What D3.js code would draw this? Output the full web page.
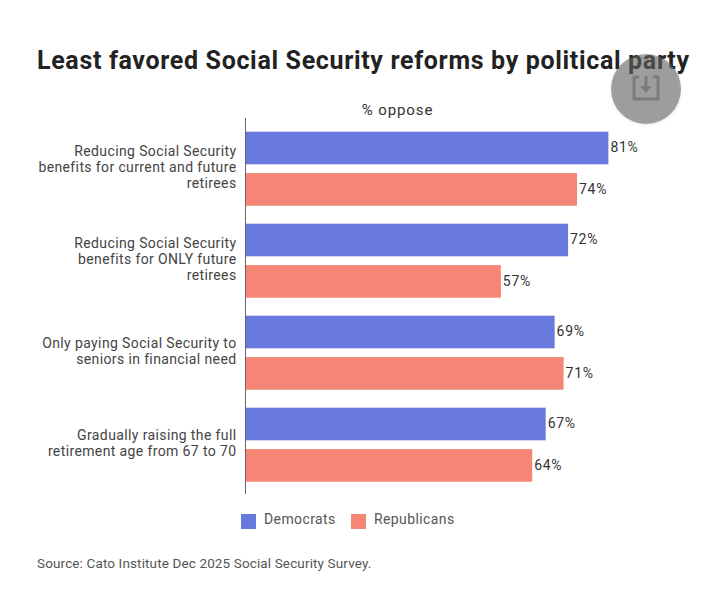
<!DOCTYPE html>
<html>
<head>
<meta charset="utf-8">
<script src="https://cdnjs.cloudflare.com/ajax/libs/d3/7.8.5/d3.min.js"></script>
<style>
	html, body { margin: 0; padding: 0; background: #fff; }
	text { font-family: Roboto, "Liberation Sans", sans-serif; }
	.title { font-size: 25px; font-weight: 700; fill: #222; letter-spacing: 0.66px; }
	.cat { font-size: 14px; fill: #444; letter-spacing: 0.38px; }
	.val { font-size: 14px; fill: #333; letter-spacing: 0.7px; }
	.legend { font-size: 14px; fill: #555; letter-spacing: 0.4px; }
	.source { font-size: 13.5px; fill: #555; letter-spacing: 0.13px; }
	.axis-title { font-size: 15px; fill: #333; letter-spacing: 0.9px; }
</style>
</head>
<body>
<div id="chart"></div>
<script>
var categories = [
	["Reducing Social Security", "benefits for current and future", "retirees"],
	["Reducing Social Security", "benefits for ONLY future", "retirees"],
	["Only paying Social Security to", "seniors in financial need"],
	["Gradually raising the full", "retirement age from 67 to 70"]
];
var seriesNames = ["Democrats", "Republicans"];
var democrats = [81, 72, 69, 67];
var republicans = [74, 57, 71, 64];
var colors = ["#6779dc", "#f58575"];

var width = 720, height = 607;

var svg = d3.select("#chart").append("svg")
	.attr("width", width)
	.attr("height", height)
	.style("display", "block");

var x = d3.scaleLinear().domain([0, 100]).range([245.5, 693.5]);
var y0 = d3.scaleBand().domain(d3.range(categories.length))
	.range([118, 494])
	.paddingInner(18 / 92)
	.paddingOuter(13 / 92)
	.align(13.7 / 26);
var y1 = d3.scaleBand().domain(seriesNames)
	.range([0, y0.bandwidth()])
	.paddingInner(0.2126)
	.paddingOuter(0);

svg.append("text").attr("class", "title")
	.attr("x", 37).attr("y", 69)
	.text("Least favored Social Security reforms by political party");

svg.append("text").attr("class", "axis-title")
	.attr("x", 397.5).attr("y", 115)
	.attr("text-anchor", "middle")
	.text("% oppose");

var rows = [];
categories.forEach(function(c, i) {
	rows.push({cat: i, name: "Democrats", value: democrats[i], color: colors[0]});
	rows.push({cat: i, name: "Republicans", value: republicans[i], color: colors[1]});
});

svg.selectAll("rect.bar")
	.data(rows)
	.enter()
	.append("rect")
	.attr("class", "bar")
	.attr("x", x(0))
	.attr("y", function(d) { return y0(d.cat) + y1(d.name); })
	.attr("width", function(d) { return x(d.value) - x(0); })
	.attr("height", y1.bandwidth())
	.attr("fill", function(d) { return d.color; });

svg.selectAll("text.val")
	.data(rows)
	.enter()
	.append("text")
	.attr("class", "val")
	.attr("x", function(d) { return x(d.value) + 2; })
	.attr("y", function(d) { return y0(d.cat) + y1(d.name) + y1.bandwidth() / 2 + 4.5; })
	.text(function(d) { return d.value + "%"; });

svg.append("line")
	.attr("x1", x(0)).attr("x2", x(0))
	.attr("y1", 118).attr("y2", 494)
	.attr("stroke", "#666")
	.attr("stroke-width", 1);

// category labels, wrapped as in the original
var cat = svg.selectAll("text.cat")
	.data(categories)
	.enter()
	.append("text")
	.attr("class", "cat")
	.attr("text-anchor", "end");

cat.each(function(lines, i) {
	var top = y0(i) + y0.bandwidth() / 2 - (lines.length - 1) * 8 + 3;
	d3.select(this).selectAll("tspan")
		.data(lines)
		.enter()
		.append("tspan")
		.attr("x", 236.5)
		.attr("y", function(d, j) { return top + j * 16; })
		.text(function(d) { return d; });
});

// legend
var legendX = [241, 351];
var legend = svg.selectAll("g.legend")
	.data(seriesNames)
	.enter()
	.append("g")
	.attr("class", "legend")
	.attr("transform", function(d, i) { return "translate(" + legendX[i] + ",514)"; });

legend.append("rect")
	.attr("width", 15)
	.attr("height", 15)
	.attr("fill", function(d, i) { return colors[i]; });

legend.append("text")
	.attr("class", "legend")
	.attr("x", 23)
	.attr("y", 10)
	.text(function(d) { return d; });

svg.append("text").attr("class", "source")
	.attr("x", 37).attr("y", 568)
	.text("Source: Cato Institute Dec 2025 Social Security Survey.");

// download button sitting over the title, the title shows through it
var button = svg.append("g").attr("transform", "translate(646,89)");
button.append("circle")
	.attr("r", 35)
	.attr("fill", "#686868")
	.attr("fill-opacity", 0.59)
	.style("filter", "drop-shadow(0 1px 1.5px rgba(0,0,0,0.15))");
button.append("path")
	.attr("d", "M-7,-12H-12V10H12V-12H7")
	.attr("fill", "none")
	.attr("stroke", "#7c7c7c")
	.attr("stroke-width", 3)
	.attr("stroke-linejoin", "round");
button.append("path")
	.attr("d", "M0,-13V-1")
	.attr("stroke", "#7c7c7c")
	.attr("stroke-width", 3);
button.append("path")
	.attr("d", "M-6,-3H6L0,4Z")
	.attr("fill", "#7c7c7c");
</script>
</body>
</html>
